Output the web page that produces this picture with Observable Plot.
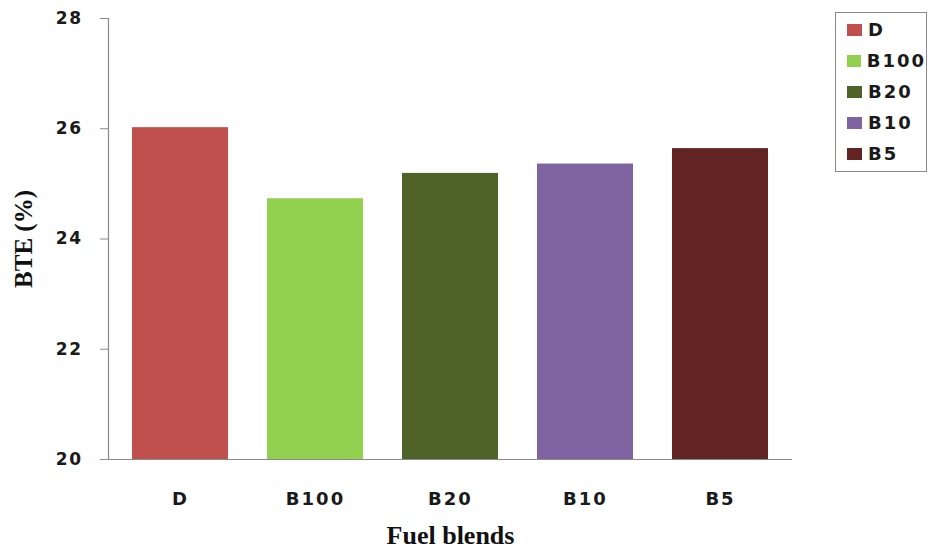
<!DOCTYPE html>
<html>
<head>
<meta charset="utf-8">
<script src="https://cdn.jsdelivr.net/npm/d3@7"></script>
<script src="https://cdn.jsdelivr.net/npm/@observablehq/plot@0.6"></script>
<style>
  html, body { margin: 0; padding: 0; background: #fff; }
  #wrap { position: relative; width: 929px; height: 560px; }
  .bte g[aria-label="x-axis tick label"] text,
  .bte g[aria-label="y-axis tick label"] text {
    font-family: "DejaVu Sans", Verdana, sans-serif;
    font-weight: bold;
    fill: #1a1a1a;
  }
  .bte g[aria-label="x-axis tick label"] text { font-size: 18px; letter-spacing: 2px; }
  .bte g[aria-label="y-axis tick label"] text { font-size: 17px; letter-spacing: 1.5px; }
  #legend {
    position: absolute; left: 835px; top: 12px;
    width: 92px; height: 160px;
    border: 1px solid #8a8a8a; box-sizing: border-box;
    padding-top: 1px;
    font-family: "DejaVu Sans", Verdana, sans-serif;
    font-weight: bold; font-size: 18px; letter-spacing: 2px; color: #1a1a1a;
  }
  #legend .row { height: 31px; display: flex; align-items: center; }
  #legend .sw { width: 15px; height: 12px; margin: 0 6px 0 11px; }
</style>
</head>
<body>
<div id="wrap"></div>
<script>
// Brake thermal efficiency per fuel blend
const fuels = ["D", "B100", "B20", "B10", "B5"];
const bte = [26.02, 24.73, 25.19, 25.36, 25.64];
const colors = ["#C0504D", "#92D050", "#4F6228", "#8064A2", "#632523"];
const yTicks = [20, 22, 24, 26, 28];

const data = fuels.map((f, i) => ({fuel: f, bte: bte[i]}));
const axisColor = "#8a8a8a";

const chart = Plot.plot({
  className: "bte",
  width: 929,
  height: 560,
  marginLeft: 108,
  marginRight: 137,
  marginTop: 18,
  marginBottom: 101,
  style: {fontSize: "17px", background: "#fff"},
  x: {domain: fuels, paddingInner: 0.29, paddingOuter: 0.16, label: null},
  y: {domain: [20, 28], label: null},
  color: {domain: fuels, range: colors},
  marks: [
    Plot.barY(data, {x: "fuel", y1: 20, y2: "bte", fill: "fuel"}),
    Plot.frame({anchor: "left", stroke: axisColor, strokeWidth: 1.2}),
    Plot.ruleY([20], {stroke: axisColor, strokeWidth: 1.2}),
    Plot.axisY({ticks: yTicks, tickSize: 8, tickPadding: 18, stroke: axisColor, label: null}),
    Plot.axisX({tickSize: 0, tickPadding: 33, label: null}),
    Plot.text(["BTE (%)"], {
      frameAnchor: "left", textAnchor: "middle", dx: -85, rotate: -90,
      fontFamily: "Liberation Serif, Times New Roman, serif", fontSize: 25,
      fontWeight: "bold", fill: "#111"
    }),
    Plot.text(["Fuel blends"], {
      frameAnchor: "bottom", dy: 84,
      fontFamily: "Liberation Serif, Times New Roman, serif", fontSize: 26,
      fontWeight: "bold", fill: "#111"
    })
  ]
});

const wrap = document.getElementById("wrap");
wrap.appendChild(chart);

// Legend built from the same categories and colours
const legend = document.createElement("div");
legend.id = "legend";
fuels.forEach((f, i) => {
  const row = document.createElement("div");
  row.className = "row";
  const sw = document.createElement("span");
  sw.className = "sw";
  sw.style.background = colors[i];
  const label = document.createElement("span");
  label.textContent = f;
  row.appendChild(sw);
  row.appendChild(label);
  legend.appendChild(row);
});
wrap.appendChild(legend);
</script>
</body>
</html>
